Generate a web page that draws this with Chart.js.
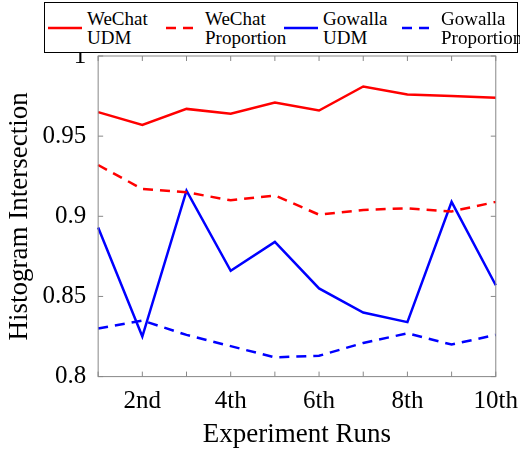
<!DOCTYPE html>
<html><head><script src="https://cdn.jsdelivr.net/npm/chart.js"></script>
<style>
body{margin:0;background:#fff;font-family:"Liberation Serif",serif;}
#wrap{position:relative;width:520px;height:457px;}
#leg{position:absolute;left:44px;top:2px;width:472px;height:49px;border:1px solid #000;display:flex;background:#fff;}
.it{width:118px;display:flex;align-items:center;font-size:19px;line-height:19px;white-space:nowrap;}
.it svg{margin:0 5px 0 3px;flex:none}
</style></head><body>
<div id="wrap"><canvas id="c" width="520" height="457"></canvas>
<div id="leg"></div></div>
<script>
const runs=["1st","2nd","3rd","4th","5th","6th","7th","8th","9th","10th"];
const wechatUDM=[0.965,0.957,0.967,0.964,0.971,0.966,0.981,0.976,0.975,0.974];
const wechatProp=[0.932,0.917,0.915,0.910,0.913,0.901,0.904,0.905,0.903,0.909];
const gowallaUDM=[0.893,0.825,0.916,0.866,0.884,0.855,0.840,0.834,0.909,0.857];
const gowallaProp=[0.830,0.835,0.826,0.819,0.812,0.813,0.821,0.827,0.820,0.826];
const yTicks=[0.8,0.85,0.9,0.95,1];
const sets=[
 {n:["WeChat","UDM"],d:wechatUDM,c:"#ff0000",dash:[]},
 {n:["WeChat","Proportion"],d:wechatProp,c:"#ff0000",dash:[10,7]},
 {n:["Gowalla","UDM"],d:gowallaUDM,c:"#0000ff",dash:[]},
 {n:["Gowalla","Proportion"],d:gowallaProp,c:"#0000ff",dash:[10,7]}];
const leg=document.getElementById('leg');
sets.forEach(s=>{const e=document.createElement('div');e.className='it';
e.innerHTML=`<svg width="34" height="6"><line x1="0" y1="3" x2="34" y2="3" stroke="${s.c}" stroke-width="2.5" stroke-dasharray="${s.dash.join(' ')}"/></svg><div>${s.n[0]}<br>${s.n[1]}</div>`;leg.appendChild(e);});
const box={id:'box',afterDraw(ch){const a=ch.chartArea,x=ch.ctx;x.save();x.strokeStyle='#888';x.lineWidth=1;x.strokeRect(a.left,a.top,a.right-a.left,a.bottom-a.top);
x.beginPath();ch.scales.x.ticks.forEach((t,i)=>{const px=ch.scales.x.getPixelForTick(i);x.moveTo(px,a.bottom);x.lineTo(px,a.bottom-5);x.moveTo(px,a.top);x.lineTo(px,a.top+5);});
yTicks.forEach(v=>{const py=ch.scales.y.getPixelForValue(v);x.moveTo(a.left,py);x.lineTo(a.left+5,py);x.moveTo(a.right,py);x.lineTo(a.right-5,py);});x.stroke();x.restore();}};
new Chart(document.getElementById('c'),{type:'line',
data:{labels:runs,datasets:sets.map(s=>({label:s.n.join(' '),data:s.d,borderColor:s.c,borderDash:s.dash,borderWidth:2.5,pointRadius:0,tension:0}))},
options:{responsive:false,animation:false,layout:{padding:{top:56,right:22,left:0,bottom:2}},
plugins:{legend:{display:false},tooltip:{enabled:false}},
scales:{
x:{offset:false,grid:{display:false},border:{display:false},
 ticks:{color:'#000',font:{family:'Liberation Serif',size:25},maxRotation:0,autoSkip:false,padding:2,callback:(v,i)=>i%2===1?runs[i]:''},
 title:{display:true,text:'Experiment Runs',color:'#000',font:{family:'Liberation Serif',size:27},padding:{top:0}}},
y:{min:0.8,max:1,grid:{display:false},border:{display:false},
 afterBuildTicks:a=>{a.ticks=yTicks.map(v=>({value:v}));},
 ticks:{color:'#000',font:{family:'Liberation Serif',size:25},padding:4,callback:v=>String(+v.toFixed(2))},
 title:{display:true,text:'Histogram Intersection',color:'#000',font:{family:'Liberation Serif',size:27},padding:{bottom:2}}}}},
plugins:[box]});
</script></body></html>
